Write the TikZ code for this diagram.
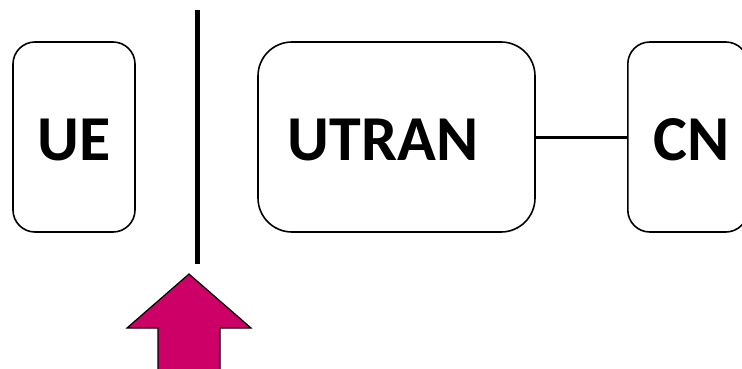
\documentclass[tikz,border=0pt]{standalone}
\usepackage{fontspec}
\setmainfont{Carlito}
\definecolor{arrowmag}{HTML}{CC0066}
\begin{document}
\begin{tikzpicture}[x=1pt,y=-1pt,
  netbox/.style={draw=black,line width=1.6pt,fill=white,inner sep=0pt,minimum height=190pt},
  lbl/.style={font=\fontsize{64}{70}\selectfont\bfseries,inner sep=0pt},
  link/.style={line width=3pt}]
\useasboundingbox (0,0) rectangle (742,369);
\clip (0,0) rectangle (742,369);
\node[netbox,rounded corners=22pt,minimum width=122pt] (ue) at (74,137) {};
\node[lbl] (uetxt) at (74,140) {UE};
\node[netbox,rounded corners=34pt,minimum width=277pt] (utran) at (396.5,137) {};
\node[lbl] (utrantxt) at (383,140) {UTRAN};
\node[netbox,rounded corners=22pt,minimum width=120pt,anchor=west] (cn) at (627,137) {};
\node[lbl,anchor=west] (cntxt) at (653,140) {CN};
\draw[link] (utran.east) -- (cn.west);
\coordinate (ltop) at (197,10);
\coordinate (lbot) at (197,264);
\draw[line width=5pt] (ltop) -- (lbot);
\filldraw[draw=black,line width=1.2pt,fill=arrowmag]
  (189,274) -- (251,328) -- (220,328) -- (220,375) -- (158,375) -- (158,328) -- (127,328) -- cycle;
\end{tikzpicture}
\end{document}
